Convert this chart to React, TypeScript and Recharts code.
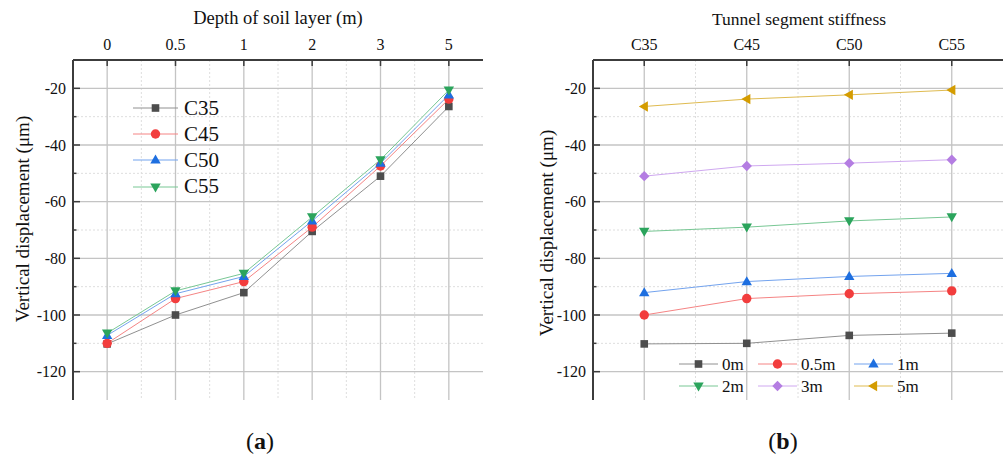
import React from 'react';
import { LineChart, Line, XAxis, YAxis, CartesianGrid, Legend } from 'recharts';

const depthLabels = ['0', '0.5', '1', '2', '3', '5'];
const gradeLabels = ['C35', 'C45', 'C50', 'C55'];

// vertical displacement (μm) per concrete grade, one value per soil depth
const c35 = [-110.2, -100, -92.1, -70.5, -51, -26.4];
const c45 = [-110, -94.2, -88.2, -69, -47.4, -23.8];
const c50 = [-107.2, -92.5, -86.4, -66.8, -46.4, -22.3];
const c55 = [-106.4, -91.5, -85.3, -65.4, -45.2, -20.6];
const grades = [c35, c45, c50, c55];

const yMajor = [-120, -100, -80, -60, -40, -20];
const yMinor = [-110, -90, -70, -50, -30];

const serif = 'Liberation Serif';
const axisColor = '#3c3c3c';

type Shape = 'square' | 'circle' | 'up' | 'down' | 'diamond' | 'left';
interface SeriesStyle { shape: Shape; fill: string; line: string }

const depthStyles: SeriesStyle[] = [
  { shape: 'square', fill: '#4d4d4d', line: '#909090' },
  { shape: 'circle', fill: '#f23d3d', line: '#f58484' },
  { shape: 'up', fill: '#1e6fe0', line: '#73a3ee' },
  { shape: 'down', fill: '#2ba45c', line: '#78c794' },
  { shape: 'diamond', fill: '#b47de2', line: '#cfa8f0' },
  { shape: 'left', fill: '#d49c00', line: '#dfbb50' },
];
const gradeStyles = depthStyles.slice(0, 4);

const leftData = depthLabels.map((_, i) => {
  const row: Record<string, number> = { i };
  gradeLabels.forEach((g, gi) => { row[g] = grades[gi][i]; });
  return row;
});

const depthKeys = depthLabels.map((d) => `${d}m`);
const rightData = gradeLabels.map((_, gi) => {
  const row: Record<string, number> = { i: gi };
  depthKeys.forEach((k, di) => { row[k] = grades[gi][di]; });
  return row;
});

function Marker({ cx, cy, shape, fill }: { cx: number; cy: number; shape: Shape; fill: string }) {
  if (cx == null || cy == null) return null;
  switch (shape) {
    case 'square':
      return <rect x={cx - 3.8} y={cy - 3.8} width={7.6} height={7.6} fill={fill} />;
    case 'circle':
      return <circle cx={cx} cy={cy} r={4.7} fill={fill} />;
    case 'up':
      return <polygon points={`${cx},${cy - 5.4} ${cx + 5.2},${cy + 3.6} ${cx - 5.2},${cy + 3.6}`} fill={fill} />;
    case 'down':
      return <polygon points={`${cx},${cy + 5.4} ${cx + 5.2},${cy - 3.6} ${cx - 5.2},${cy - 3.6}`} fill={fill} />;
    case 'diamond':
      return <polygon points={`${cx},${cy - 5.2} ${cx + 5.2},${cy} ${cx},${cy + 5.2} ${cx - 5.2},${cy}`} fill={fill} />;
    default:
      return <polygon points={`${cx - 5.4},${cy} ${cx + 3.6},${cy - 5.2} ${cx + 3.6},${cy + 5.2}`} fill={fill} />;
  }
}

function LeftTick(props: any) {
  const { x, y, payload } = props;
  const major = yMajor.includes(payload.value);
  return (
    <g>
      <line x1={x} x2={x + (major ? 7 : 3.5)} y1={y} y2={y} stroke={axisColor} strokeWidth={1.5} />
      {major && (
        <text x={x - 7} y={y + 5.5} textAnchor="end" style={{ fontFamily: serif, fontSize: 16 }} fill="#111">
          {payload.value}
        </text>
      )}
    </g>
  );
}

function TopTick(props: any) {
  const { x, y, payload, labels } = props;
  return (
    <g>
      <line x1={x} x2={x} y1={y} y2={y + 6} stroke={axisColor} strokeWidth={1.5} />
      <text x={x} y={y - 10} textAnchor="middle" style={{ fontFamily: serif, fontSize: 16 }} fill="#111">
        {labels[payload.value]}
      </text>
    </g>
  );
}

function LegendSwatch({ st, width }: { st: SeriesStyle; width: number }) {
  return (
    <svg width={width} height={20} style={{ display: 'block', overflow: 'visible' }}>
      <line x1={0} x2={width} y1={10} y2={10} stroke={st.line} strokeWidth={1} />
      <Marker cx={width / 2} cy={10} shape={st.shape} fill={st.fill} />
    </svg>
  );
}

function LeftLegend(props: any) {
  const items = [...(props.payload || [])].sort(
    (a: any, b: any) => gradeLabels.indexOf(a.value) - gradeLabels.indexOf(b.value)
  );
  return (
    <div style={{ fontFamily: serif, fontSize: 21, color: '#111' }}>
      {items.map((e: any) => (
        <div key={e.value} style={{ display: 'flex', alignItems: 'center', height: 26.2 }}>
          <LegendSwatch st={gradeStyles[gradeLabels.indexOf(e.value)]} width={45} />
          <span style={{ marginLeft: 6, lineHeight: 1, fontFamily: serif }}>{e.value}</span>
        </div>
      ))}
    </div>
  );
}

function RightLegend(props: any) {
  const items = [...(props.payload || [])].sort(
    (a: any, b: any) => depthKeys.indexOf(a.value) - depthKeys.indexOf(b.value)
  );
  return (
    <div
      style={{
        fontFamily: serif,
        fontSize: 17,
        color: '#111',
        display: 'grid',
        gridTemplateColumns: '79px 96px auto',
      }}
    >
      {items.map((e: any) => (
        <div key={e.value} style={{ display: 'flex', alignItems: 'center', height: 22 }}>
          <LegendSwatch st={depthStyles[depthKeys.indexOf(e.value)]} width={39} />
          <span style={{ marginLeft: 4, lineHeight: 1, fontFamily: serif }}>{e.value}</span>
        </div>
      ))}
    </div>
  );
}

const axisLine = { stroke: axisColor, strokeWidth: 2 };

function Frame({ n, labels }: { n: number; labels: string[] }) {
  const idx = Array.from({ length: n }, (_, k) => k);
  const minorX = idx.slice(0, n - 1).map((k) => k + 0.5);
  return [
    <CartesianGrid key="gminy" vertical={false} horizontalValues={yMinor} stroke="#dedede" strokeDasharray="2 2" />,
    <CartesianGrid key="gminx" horizontal={false} verticalValues={minorX} stroke="#dedede" strokeDasharray="2 2" />,
    <CartesianGrid key="gmaj" horizontalValues={yMajor} verticalValues={idx} stroke="#c4c4c4" strokeWidth={1.3} />,
    <XAxis
      key="xt"
      xAxisId={0}
      orientation="top"
      type="number"
      dataKey="i"
      domain={[-0.5, n - 0.5]}
      ticks={idx}
      interval={0}
      height={40}
      tickSize={0}
      tickMargin={0}
      tickLine={false}
      axisLine={axisLine}
      tick={<TopTick labels={labels} />}
    />,
    <XAxis key="xb" xAxisId="b" orientation="bottom" type="number" domain={[-0.5, n - 0.5]} height={0} tick={false} tickLine={false} axisLine={axisLine} />,
    <YAxis
      key="yl"
      yAxisId={0}
      orientation="left"
      type="number"
      domain={[-130, -10]}
      ticks={[...yMajor, ...yMinor].sort((a, b) => a - b)}
      interval={0}
      width={50}
      tickSize={0}
      tickMargin={0}
      tickLine={false}
      axisLine={axisLine}
      tick={<LeftTick />}
    />,
    <YAxis key="yr" yAxisId="r" orientation="right" type="number" domain={[-130, -10]} width={0} tick={false} tickLine={false} axisLine={axisLine} />,
  ];
}

export default function App() {
  return (
    <div style={{ position: 'absolute', left: 0, top: 0, width: 1004, height: 456, background: '#fff', overflow: 'hidden', fontFamily: serif }}>
      <div style={{ position: 'absolute', left: 0, top: 0 }}>
        <LineChart width={500} height={456} data={leftData} margin={{ top: 20, right: 17, bottom: 56, left: 23 }} style={{ fontFamily: serif }}>
          {Frame({ n: depthLabels.length, labels: depthLabels })}
          {gradeLabels.map((g, gi) => (
            <Line
              key={g}
              dataKey={g}
              name={g}
              stroke={gradeStyles[gi].line}
              strokeWidth={1}
              isAnimationActive={false}
              activeDot={false}
              dot={(p: any) => <Marker key={`${g}-${p.index}`} cx={p.cx} cy={p.cy} shape={gradeStyles[gi].shape} fill={gradeStyles[gi].fill} />}
            />
          ))}
          <Legend layout="vertical" align="center" verticalAlign="middle" content={<LeftLegend />} wrapperStyle={{ left: 133, top: 95, width: 'auto', height: 'auto' }} />
        </LineChart>
      </div>
      <div style={{ position: 'absolute', left: 500, top: 0 }}>
        <LineChart width={504} height={456} data={rightData} margin={{ top: 20, right: 1, bottom: 56, left: 43 }} style={{ fontFamily: serif }}>
          {Frame({ n: gradeLabels.length, labels: gradeLabels })}
          {depthKeys.map((k, di) => (
            <Line
              key={k}
              dataKey={k}
              name={k}
              stroke={depthStyles[di].line}
              strokeWidth={1}
              isAnimationActive={false}
              activeDot={false}
              dot={(p: any) => <Marker key={`${k}-${p.index}`} cx={p.cx} cy={p.cy} shape={depthStyles[di].shape} fill={depthStyles[di].fill} />}
            />
          ))}
          <Legend layout="vertical" align="center" verticalAlign="middle" content={<RightLegend />} wrapperStyle={{ left: 179, top: 353, width: 'auto', height: 'auto' }} />
        </LineChart>
      </div>
      <svg width={1004} height={456} style={{ position: 'absolute', left: 0, top: 0, pointerEvents: 'none', fontFamily: serif }} fill="#111">
        <text x={278} y={24} textAnchor="middle" fontSize={18.5}>Depth of soil layer (m)</text>
        <text x={799} y={25} textAnchor="middle" fontSize={17.5}>Tunnel segment stiffness</text>
        <text transform="translate(29 219) rotate(-90)" textAnchor="middle" fontSize={19} style={{ fontFamily: serif }}>Vertical displacement (μm)</text>
        <text transform="translate(553 233) rotate(-90)" textAnchor="middle" fontSize={19} style={{ fontFamily: serif }}>Vertical displacement (μm)</text>
        <text x={260} y={449} textAnchor="middle" fontSize={24}>(<tspan fontWeight="bold">a</tspan>)</text>
        <text x={783} y={449} textAnchor="middle" fontSize={24}>(<tspan fontWeight="bold">b</tspan>)</text>
      </svg>
    </div>
  );
}
